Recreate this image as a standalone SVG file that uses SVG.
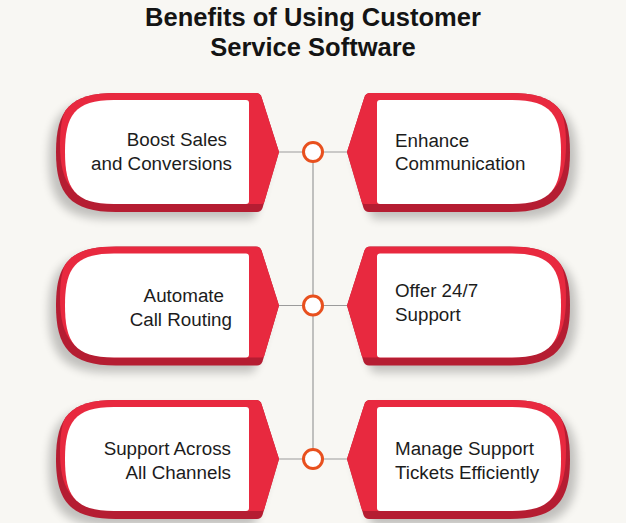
<svg xmlns="http://www.w3.org/2000/svg" xmlns:xlink="http://www.w3.org/1999/xlink" width="626" height="523" viewBox="0 0 626 523">
<style>
.title{font-family:"Liberation Sans",Arial,sans-serif;font-weight:bold;font-size:25.5px;fill:#141414;text-anchor:middle}
.lbl{font-family:"Liberation Sans",Arial,sans-serif;font-size:18.8px;fill:#1c1c1c}
.end{text-anchor:end}
.line{stroke:#9b9b9b;stroke-width:1.2;fill:none}
.dot{fill:#ffffff;stroke:#e8501e;stroke-width:3}
</style>
<defs>
<filter id="blur" x="-20%" y="-30%" width="140%" height="160%"><feGaussianBlur stdDeviation="5"/></filter>
<path id="outerL" d="M116,93 L256,93 Q260,93 261.5,97 L279,152 L262.5,208 Q261,212 257,212 L116,212 C70,212 56,194 56,152 C56,110 70,93 116,93 Z"/>
<path id="innerL" d="M114,100 L246,100 Q249,100 249,103 L249,201 Q249,204 246,204 L114,204 C74,204 65,188 65,152 C65,116 74,100 114,100 Z"/>
<clipPath id="clipL"><use xlink:href="#outerL"/></clipPath>
<g id="shapeL">
<use xlink:href="#outerL" transform="translate(-7,7)" fill="#000" opacity="0.22" filter="url(#blur)"/>
<use xlink:href="#outerL" fill="#b51d32"/>
<g clip-path="url(#clipL)"><use xlink:href="#outerL" transform="translate(4,-8)" fill="#e8293f"/></g>
<use xlink:href="#innerL" fill="#ffffff"/>
</g>
</defs>
<rect width="626" height="523" fill="#f8f7f3"/>
<g id="title">
<text class="title" x="313" y="26">Benefits of Using Customer</text>
<text class="title" x="313" y="56">Service Software</text>
</g>
<g id="connectors">
<line class="line" x1="313" y1="152" x2="313" y2="459"/>
<line class="line" x1="279" y1="152" x2="347" y2="152"/>
<line class="line" x1="279" y1="305.5" x2="347" y2="305.5"/>
<line class="line" x1="279" y1="459" x2="347" y2="459"/>
<circle class="dot" cx="313" cy="152" r="9.5"/>
<circle class="dot" cx="313" cy="305.5" r="9.5"/>
<circle class="dot" cx="313" cy="459" r="9.5"/>
</g>
<g id="node-boost-sales">
<use xlink:href="#shapeL"/>
<text class="lbl end" x="227" y="146">Boost Sales</text>
<text class="lbl end" x="232" y="170">and Conversions</text>
</g>
<g id="node-enhance-communication">
<use xlink:href="#shapeL" transform="translate(626,0) scale(-1,1)"/>
<text class="lbl" x="395" y="147">Enhance</text>
<text class="lbl" x="395" y="170">Communication</text>
</g>
<g id="node-automate-routing">
<use xlink:href="#shapeL" transform="translate(0,153.5)"/>
<text class="lbl end" x="224" y="302">Automate</text>
<text class="lbl end" x="232" y="326">Call Routing</text>
</g>
<g id="node-offer-support">
<use xlink:href="#shapeL" transform="translate(626,153.5) scale(-1,1)"/>
<text class="lbl" x="395" y="297">Offer 24/7</text>
<text class="lbl" x="395" y="321">Support</text>
</g>
<g id="node-support-channels">
<use xlink:href="#shapeL" transform="translate(0,307)"/>
<text class="lbl end" x="231" y="455">Support Across</text>
<text class="lbl end" x="231" y="479">All Channels</text>
</g>
<g id="node-manage-tickets">
<use xlink:href="#shapeL" transform="translate(626,307) scale(-1,1)"/>
<text class="lbl" x="395" y="455">Manage Support</text>
<text class="lbl" x="395" y="479">Tickets Efficiently</text>
</g>
</svg>
